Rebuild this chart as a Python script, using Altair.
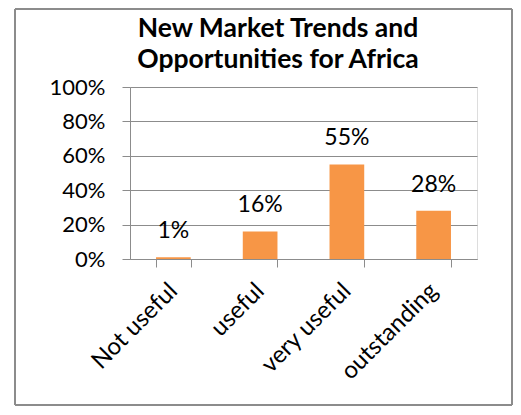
import altair as alt
import pandas as pd

categories = ["Not useful", "useful", "very useful", "outstanding"]
values = [0.01, 0.16, 0.55, 0.28]
labels = ["1%", "16%", "55%", "28%"]
title_lines = ["New Market Trends and", "Opportunities for Africa"]
y_ticks = [0, 0.2, 0.4, 0.6, 0.8, 1.0]

df = pd.DataFrame({"cat": categories, "val": values, "lab": labels})

FONT = "Lato"
GREY = "#8c8c8c"

x = alt.X("cat:N", sort=categories,
          scale=alt.Scale(paddingInner=0.6, paddingOuter=0.3),
          axis=alt.Axis(title=None, labelAngle=-45, labelAlign="right", labelBaseline="middle",
                        labelFontSize=24, labelFont=FONT, labelColor="black",
                        tickBand="extent", tickSize=8, tickColor=GREY,
                        domainColor=GREY, labelPadding=20, grid=False, labelOverlap=False))
y = alt.Y("val:Q", scale=alt.Scale(domain=[0, 1], nice=False),
          axis=alt.Axis(title=None, format=".0%", values=y_ticks, tickCount=20,
                        labelFontSize=22, labelFont=FONT, labelColor="black",
                        tickSize=8, tickColor=GREY, domainColor=GREY,
                        gridColor=GREY, labelPadding=17, labelOverlap=False,
                        labelFlush=False))

base = alt.Chart(df).encode(x=x, y=y)
bars = base.mark_bar(color="#F79646")
text = base.mark_text(font=FONT, fontSize=23, baseline="alphabetic", dy=-19, color="black").encode(text="lab:N")

tdf = pd.DataFrame({"t": title_lines})
t1 = alt.Chart(pd.DataFrame({"t": [title_lines[0]]})).mark_text(
    font=FONT, fontSize=26.5, fontWeight="bold", color="black", baseline="alphabetic", align="center"
).encode(x=alt.value(148), y=alt.value(-50), text="t:N")
t2 = alt.Chart(pd.DataFrame({"t": [title_lines[1]]})).mark_text(
    font=FONT, fontSize=26.5, fontWeight="bold", color="black", baseline="alphabetic", align="center"
).encode(x=alt.value(148), y=alt.value(-19), text="t:N")

L, R, T, B = -115, 382, -78, 318
frame_style = dict(color=GREY, strokeWidth=2)
f_top = alt.Chart(tdf).mark_rule(**frame_style).encode(x=alt.value(L), x2=alt.value(R), y=alt.value(T))
f_bot = alt.Chart(tdf).mark_rule(**frame_style).encode(x=alt.value(L), x2=alt.value(R), y=alt.value(B))
f_left = alt.Chart(tdf).mark_rule(**frame_style).encode(y=alt.value(T), y2=alt.value(B), x=alt.value(L))
f_right = alt.Chart(tdf).mark_rule(**frame_style).encode(y=alt.value(T), y2=alt.value(B), x=alt.value(R))

chart = alt.layer(bars, text, t1, t2, f_top, f_bot, f_left, f_right).properties(
    width=347, height=172,
    autosize=alt.AutoSizeParams(type="none"),
    padding={"left": 122, "top": 79, "right": 36, "bottom": 148},
).configure_view(stroke=None).configure(background="white")

chart.save("out.html", embed_options={"renderer": "svg", "actions": False})
